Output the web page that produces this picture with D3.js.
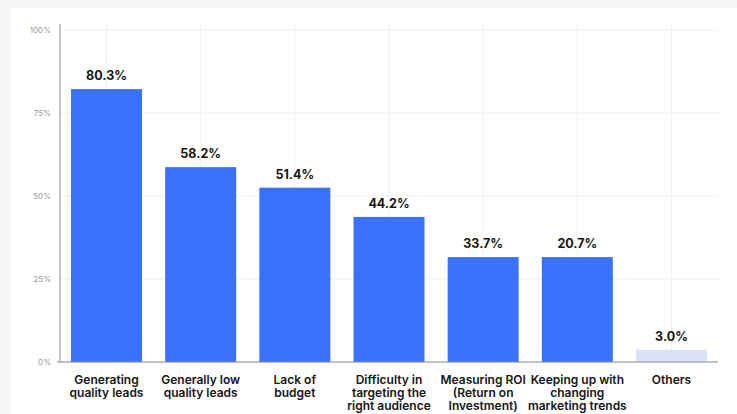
<!DOCTYPE html>
<html>
<head>
<meta charset="utf-8">
<script src="https://cdn.jsdelivr.net/npm/d3@7"></script>
<style>
  body { margin: 0; background: #f5f5f5; }
  svg { display: block; }
</style>
</head>
<body>
<div id="container"></div>
<script>
/* DATA */
const categories = [
  "Generating\nquality leads",
  "Generally low\nquality leads",
  "Lack of\nbudget",
  "Difficulty in\ntargeting the\nright audience",
  "Measuring ROI\n(Return on\nInvestment)",
  "Keeping up with\nchanging\nmarketing trends",
  "Others"
];
// bar heights as drawn in the picture
const barValues = [82.2, 58.7, 52.5, 43.7, 31.6, 31.6, 3.7];
// value labels printed above the bars
const valueLabels = ["80.3%", "58.2%", "51.4%", "44.2%", "33.7%", "20.7%", "3.0%"];
const yTicks = [0, 25, 50, 75, 100];

/* CONSTANTS */
const width = 737, height = 414;
const plot = { left: 60, right: 718, top: 24, bottom: 362 };

const svg = d3.select("#container").append("svg")
  .attr("width", width)
  .attr("height", height);

// white panel
svg.append("rect")
  .attr("x", 10).attr("y", 8)
  .attr("width", width - 10).attr("height", height - 8)
  .attr("fill", "#fff");

/* SCALES */
const xScale = d3.scaleBand()
  .domain(categories)
  .range([plot.left, plot.right])
  .paddingInner(0.246)
  .paddingOuter(0.117);

const yScale = d3.scaleLinear()
  .domain([0, 100])
  .range([plot.bottom, 30]);

/* GRID */
svg.append("g")
  .selectAll("line")
  .data(yTicks)
  .join("line")
  .attr("x1", plot.left).attr("x2", plot.right)
  .attr("y1", d => yScale(d)).attr("y2", d => yScale(d))
  .attr("stroke", "#f0f0f0");

svg.append("g")
  .selectAll("line")
  .data(categories)
  .join("line")
  .attr("x1", d => xScale(d) + xScale.bandwidth() / 2)
  .attr("x2", d => xScale(d) + xScale.bandwidth() / 2)
  .attr("y1", plot.top).attr("y2", plot.bottom)
  .attr("stroke", "#f0f0f0");

/* BARS */
svg.selectAll(".bar")
  .data(categories)
  .join("rect")
  .attr("class", "bar")
  .attr("x", d => xScale(d))
  .attr("width", xScale.bandwidth())
  .attr("y", (d, i) => yScale(barValues[i]))
  .attr("height", (d, i) => yScale(0) - yScale(barValues[i]))
  .attr("fill", (d, i) => i === categories.length - 1 ? "#dae2f7" : "#3a71ff");

/* AXES */
const yAxis = d3.axisLeft(yScale)
  .tickValues(yTicks)
  .tickFormat(d => d + "%")
  .tickSize(0)
  .tickPadding(9);

svg.append("g")
  .attr("transform", `translate(${plot.left},0)`)
  .call(yAxis)
  .call(g => g.select(".domain").remove())
  .selectAll("text")
  .attr("fill", "#9a9a9a")
  .style("font-family", "Inter, 'Noto Sans', sans-serif")
  .style("font-size", "8px");

svg.append("line")
  .attr("x1", plot.left).attr("x2", plot.left)
  .attr("y1", plot.top).attr("y2", plot.bottom)
  .attr("stroke", "#8a8a8a");

svg.append("line")
  .attr("x1", 57).attr("x2", plot.right)
  .attr("y1", plot.bottom).attr("y2", plot.bottom)
  .attr("stroke", "#8a8a8a");

/* VALUE LABELS */
svg.selectAll("text.value")
  .data(categories)
  .join("text")
  .attr("class", "value")
  .attr("x", d => xScale(d) + xScale.bandwidth() / 2)
  .attr("y", (d, i) => yScale(barValues[i]) - 9)
  .attr("text-anchor", "middle")
  .style("font-family", "Inter, 'Noto Sans', sans-serif")
  .style("font-weight", "700")
  .style("font-size", "12.5px")
  .attr("fill", "#151515")
  .text((d, i) => valueLabels[i]);

/* CATEGORY LABELS */
svg.selectAll("text.cat")
  .data(categories)
  .join("text")
  .attr("class", "cat")
  .attr("x", d => xScale(d) + xScale.bandwidth() / 2)
  .attr("y", 384)
  .attr("text-anchor", "middle")
  .style("font-family", "Inter, 'Noto Sans', sans-serif")
  .style("font-weight", "600")
  .style("font-size", "12px")
  .attr("fill", "#151515")
  .selectAll("tspan")
  .data(d => d.split("\n"))
  .join("tspan")
  .attr("x", function () { return d3.select(this.parentNode).attr("x"); })
  .attr("dy", (d, i) => i === 0 ? 0 : 13)
  .text(d => d);
</script>
</body>
</html>
